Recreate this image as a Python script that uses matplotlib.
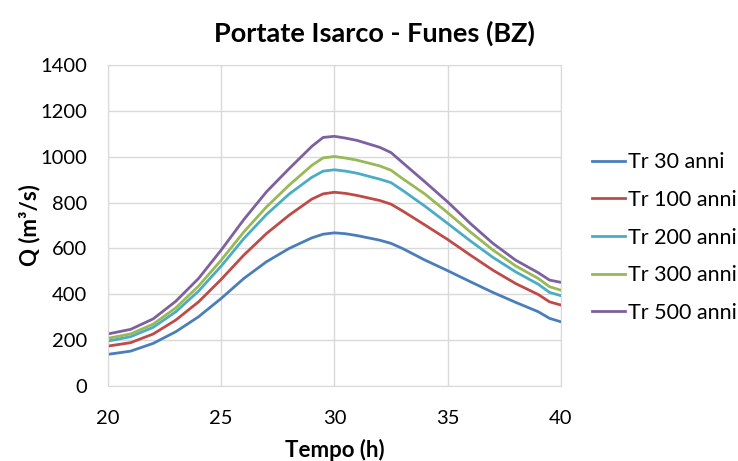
import matplotlib.pyplot as plt

# time axis (h) and discharge series (m3/s) for each return period
tempo = [20, 21, 22, 23, 24, 25, 26, 27, 28, 29, 29.5, 30, 30.5,
         31, 32, 32.5, 33, 34, 35, 36, 37, 38, 39, 39.5, 40]

tr30 = [138, 152, 186, 237, 302, 382, 469, 542, 600, 646, 662, 668, 664,
        656, 636, 622, 600, 549, 503, 455, 408, 365, 324, 295, 280]
tr100 = [174, 189, 227, 288, 367, 465, 571, 665, 745, 815, 838, 845, 840,
         831, 809, 793, 764, 702, 639, 571, 505, 447, 399, 367, 353]
tr200 = [196, 215, 256, 324, 414, 523, 643, 748, 837, 910, 937, 943, 937,
         928, 902, 887, 854, 784, 709, 633, 561, 498, 444, 408, 394]
tr300 = [208, 227, 270, 341, 436, 549, 672, 781, 876, 962, 995, 1001, 994,
         985, 960, 941, 905, 837, 756, 672, 593, 524, 469, 433, 418]
tr500 = [227, 247, 293, 370, 469, 593, 726, 847, 948, 1045, 1084, 1089, 1081,
         1071, 1041, 1018, 975, 890, 803, 709, 622, 549, 494, 462, 452]

serie = [
    ("Tr 30 anni", tr30, "#4a7ebb"),
    ("Tr 100 anni", tr100, "#be4b48"),
    ("Tr 200 anni", tr200, "#4bacc6"),
    ("Tr 300 anni", tr300, "#98b954"),
    ("Tr 500 anni", tr500, "#7d60a0"),
]

plt.rcParams['font.family'] = ['Lato', 'DejaVu Sans']

fig = plt.figure(figsize=(7.38, 4.61), dpi=100)
ax = fig.add_axes([0.1463, 0.1627, 0.6137, 0.6963])

for nome, q, colore in serie:
    ax.plot(tempo, q, color=colore, lw=2.0, label=nome)

ax.set_xlim(20, 40)
ax.set_ylim(0, 1400)
ax.set_xticks(range(20, 41, 5))
ax.set_yticks(range(0, 1401, 200))
ax.grid(True, color='#d9d9d9', lw=1)
ax.set_axisbelow(True)
for s in ax.spines.values():
    s.set_color('#d9d9d9')
ax.tick_params(length=0, labelsize=14.5, pad=15)
ax.tick_params(axis='x', pad=17)

ax.set_xlabel('Tempo (h)', fontsize=16, fontweight='bold', labelpad=9)
ax.set_ylabel('Q (m³/s)', fontsize=16, fontweight='bold', labelpad=0)
fig.text(0.507, 0.928, 'Portate Isarco - Funes (BZ)', fontsize=19.5,
         fontweight='bold', ha='center', va='center')

ax.legend(loc='center left', bbox_to_anchor=(1.05, 0.4626), frameon=False,
          borderaxespad=0, fontsize=15.5, handlelength=1.53,
          handletextpad=0.15, labelspacing=0.82)

fig.savefig('out.png', dpi=100)
